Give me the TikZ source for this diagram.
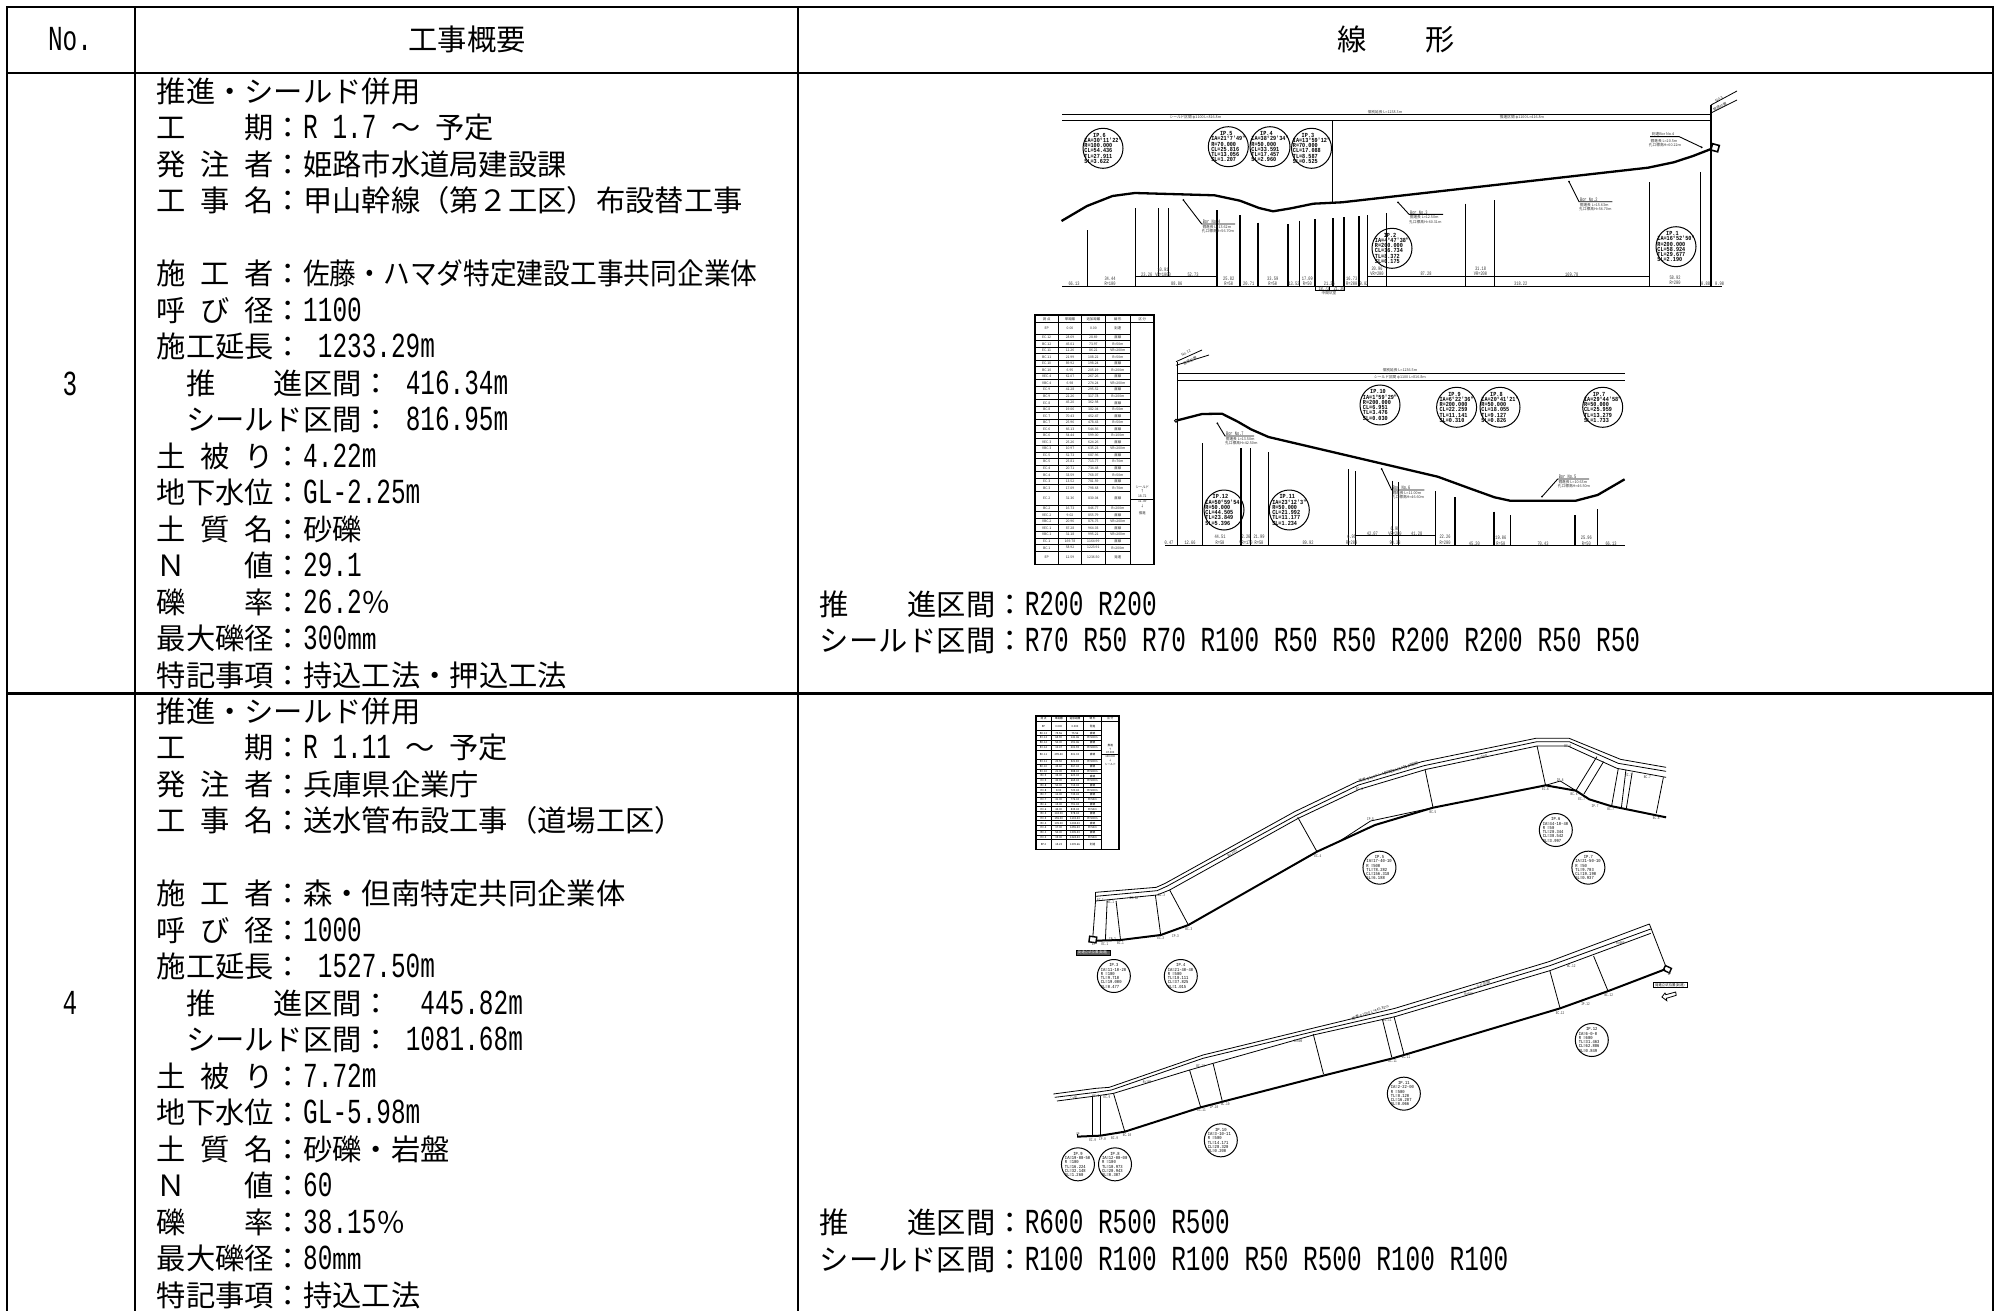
\documentclass[tikz,border=0pt]{standalone}
\usepackage{fontspec}
\setmainfont{Noto Sans CJK JP}
\newfontfamily\hwf[Scale=1.2,FakeStretch=0.6944]{Liberation Mono}
\newfontfamily\ipf[FakeStretch=0.8333]{Liberation Mono}
\newcommand\hwt[1]{{\hwf #1}}
\newcommand\hs{\hspace{.5em}}
\newcount\nc
\tikzset{
  frame/.style={line width=2.6pt},
  thin/.style={line width=.8pt},
  vert/.style={line width=1.1pt},
  route/.style={line width=2.3pt,line join=round},
  bor/.style={line width=.9pt},
  bodyt/.style={font=\fontsize{29.3}{30}\selectfont,anchor=base west,inner sep=0pt},
  headt/.style={font=\fontsize{29.3}{30}\selectfont,anchor=base,inner sep=0pt},
  dimt/.style={font=\hwf\fontsize{4.4}{5}\selectfont,inner sep=0pt,text=black!80},
  jpt/.style={font=\fontsize{3.7}{4.4}\selectfont,inner sep=0pt,text=black!80},
  ring/.style={circle,draw,line width=1pt,minimum size=#1,inner sep=0pt},
  iptext/.style={font=\ipf\bfseries\fontsize{6.2}{5.3}\selectfont,inner sep=0pt,align=left},
  iptextb/.style={font=\ipf\fontsize{4.6}{4.3}\selectfont,inner sep=0pt,align=left},
}
\newcommand\tline[3]{\global\advance\nc by 1 \node[bodyt] (n\the\nc) at (#1,#2) {#3};}
\newcommand\dm[4][0]{\global\advance\nc by 1 \node[dimt,rotate=#1] (n\the\nc) at (#2,#3) {#4};}
\newcommand\jt[4][0]{\global\advance\nc by 1 \node[jpt,rotate=#1] (n\the\nc) at (#2,#3) {#4};}
\newcommand\ipc[8]{\global\advance\nc by 1
  \node[ring=40pt] (n\the\nc) at (#1,#2) {};
  \node[iptext] (t\the\nc) at (n\the\nc) {\makebox[30pt][c]{#3}\\#4\\#5\\#6\\#7\\#8};}
\newcommand\ipd[8]{\global\advance\nc by 1
  \node[ring=33pt] (n\the\nc) at (#1,#2) {};
  \node[iptextb] (t\the\nc) at (n\the\nc) {\makebox[26pt][c]{#3}\\#4\\#5\\#6\\#7\\#8};}
% bor(dot x,y; knee x,y; end x; label)
\newcommand\bore[7]{\global\advance\nc by 1
  \coordinate (bd\the\nc) at (#1,#2);
  \coordinate (bk\the\nc) at (#3,#4);
  \coordinate (be\the\nc) at (#5,#4);
  \fill (bd\the\nc) circle (1pt);
  \draw[bor] (bd\the\nc) -- (bk\the\nc) -- (be\the\nc);
  \node[dimt,anchor=south west] (bl\the\nc) at (bk\the\nc) {\,#6};
  \node[jpt,anchor=north west,align=left] (bm\the\nc) at ([yshift=-1pt]bk\the\nc) {\,#7};}
% table
\newcommand\tstart[7]{\gdef\cxa{#1}\gdef\cxb{#2}\gdef\cxc{#3}\gdef\cxd{#4}\gdef\cxe{#5}\gdef\cxf{#6}\xdef\ycur{#7}\gdef\ytop{#7}}
\newcommand\trow[5]{%
  \pgfmathsetmacro\ynx{\ycur+#1}\pgfmathsetmacro\ymd{\ycur+#1/2}%
  \pgfmathsetmacro\pa{(\cxa+\cxb)/2}\pgfmathsetmacro\pb{(\cxb+\cxc)/2}\pgfmathsetmacro\pc{(\cxc+\cxd)/2}\pgfmathsetmacro\pd{(\cxd+\cxe)/2}%
  \global\advance\nc by 1
  \node[tabt] (n\the\nc a) at (\pa,\ymd) {#2};
  \node[tabt] (n\the\nc b) at (\pb,\ymd) {#3};
  \node[tabt] (n\the\nc c) at (\pc,\ymd) {#4};
  \node[tabt] (n\the\nc d) at (\pd,\ymd) {#5};
  \draw[line width=.8pt] (\cxa,\ynx) -- (\cxe,\ynx);
  \xdef\ycur{\ynx}}
\newcommand\tend{%
  \draw[line width=1.3pt] (\cxa,\ytop) rectangle (\cxf,\ycur);
  \foreach \vx in {\cxb,\cxc,\cxd,\cxe} {\draw[line width=.9pt] (\vx,\ytop) -- (\vx,\ycur);}}
\begin{document}
\begin{tikzpicture}[x=1pt,y=-1pt]
\useasboundingbox (0,0) rectangle (1995,1311);
\fill[white] (0,0) rectangle (1995,1311);
%% ---- table frame
\draw[frame] (7,1311) -- (7,7) -- (1993,7) -- (1993,1311);
\draw[frame] (7,73) -- (1993,73);
\draw[frame] (135,7) -- (135,1311);
\draw[frame] (798,7) -- (798,1311);
\draw[frame] (7,693.5) -- (1993,693.5);
\node[headt] (hno) at (70,51) {\hwt{No.}};
\node[headt] (hov) at (467,51) {工事概要};
\node[headt] (hal) at (1396,51) {線　　形};
\node[headt] (num3) at (70,395) {\hwt{3}};
\node[headt] (num4) at (70,1014) {\hwt{4}};
%% ---- left text, row 3
\foreach \ya/\tx in {
 0/{推進・シールド併用},
 1/{工　　期：\hwt{R 1.7 }～\hs 予定},
 2/{発\hs 注\hs 者：姫路市水道局建設課},
 3/{工\hs 事\hs 名：甲山幹線（第２工区）布設替工事},
 5/{施\hs 工\hs 者：\scalebox{0.912}[1]{佐藤・ハマダ特定建設工事共同企業体}},
 6/{呼\hs び\hs 径：\hwt{1100}},
 7/{施工延長：\hs\hwt{1233.29m}},
 8/{　推　　進区間：\hs\hwt{416.34m}},
 9/{　シールド区間：\hs\hwt{816.95m}},
 10/{土\hs 被\hs り：\hwt{4.22m}},
 11/{地下水位：\hwt{GL-2.25m}},
 12/{土\hs 質\hs 名：砂礫},
 13/{Ｎ　　値：\hwt{29.1}},
 14/{礫　　率：\hwt{26.2}％},
 15/{最大礫径：\hwt{300}㎜},
 16/{特記事項：持込工法・押込工法}}
 {\pgfmathsetmacro\yy{102.3+\ya*36.5}\tline{156.5}{\yy}{\tx}}
%% ---- left text, row 4
\foreach \ya/\tx in {
 0/{推進・シールド併用},
 1/{工　　期：\hwt{R 1.11 }～\hs 予定},
 2/{発\hs 注\hs 者：兵庫県企業庁},
 3/{工\hs 事\hs 名：送水管布設工事（道場工区）},
 5/{施\hs 工\hs 者：森・但南特定共同企業体},
 6/{呼\hs び\hs 径：\hwt{1000}},
 7/{施工延長：\hs\hwt{1527.50m}},
 8/{　推　　進区間：\hs\hs\hwt{445.82m}},
 9/{　シールド区間：\hs\hwt{1081.68m}},
 10/{土\hs 被\hs り：\hwt{7.72m}},
 11/{地下水位：\hwt{GL-5.98m}},
 12/{土\hs 質\hs 名：砂礫・岩盤},
 13/{Ｎ　　値：\hwt{60}},
 14/{礫　　率：\hwt{38.15}％},
 15/{最大礫径：\hwt{80}㎜},
 16/{特記事項：持込工法}}
 {\pgfmathsetmacro\yy{722+\ya*36.5}\tline{156.5}{\yy}{\tx}}
%% ---- right text
\tline{819.5}{615}{推　　進区間：\hwt{R200 R200}}
\tline{819.5}{651.5}{シールド区間：\hwt{R70 R50 R70 R100 R50 R50 R200 R200 R50 R50}}
\tline{819.5}{1233.5}{推　　進区間：\hwt{R600 R500 R500}}
\tline{819.5}{1270}{シールド区間：\hwt{R100 R100 R100 R50 R500 R100 R100}}
%% ======== PROFILE 1
\draw[thin,line width=1pt] (1062,114.3) -- (1711,114.3);
\draw[thin,line width=1pt] (1062,120.7) -- (1711,120.7);
\draw[vert] (1711,105) -- (1711,286);
\draw[thin] (1332.5,120.7) -- (1332.5,202);
\draw[thin] (1711,105) -- (1737,91);
\draw[thin] (1711,113) -- (1737,100);
\draw[route] (1061.5,221) -- (1087,206) -- (1112.5,196) -- (1134.8,193) -- (1214.5,195.3) -- (1240,200.7) -- (1259,208) -- (1273,211.3) -- (1291,208.3) -- (1313.4,203.7) -- (1342,202.3) -- (1648,167.7) -- (1673.7,162.3) -- (1693,156) -- (1711,149);
\draw[line width=1.6pt,rotate around={-15:(1715,148)}] (1711.5,144.5) rectangle (1718.5,151);
\foreach \xx/\yy in {1087.6/230,1135.5/208.3,1217/210,1240/215,1258/222.7,1288/224,1299.4/220.7,1315/219,1333/218.3,1344/217.3,1359/216,1367.6/215.3,1386.7/213.3,1465.8/203.7,1494.5/200.3,1649.5/182,1700.5/172}
  {\draw[vert] (\xx,\yy) -- (\xx,286);}
\foreach \xx in {1158.4,1168.6} {\draw[vert] (\xx,208) -- (\xx,276);}
\draw[thin,line width=1pt] (1062,286) -- (1722,286);
\draw[thin,line width=1pt] (1135.5,276) -- (1217,276);
\draw[thin,line width=1pt] (1367.6,276) -- (1649.5,276);
\draw[thin] (1315,286) -- (1315,290.7) -- (1344,290.7) -- (1344,286);
\draw[thin] (1329,286) -- (1329,290.7);
\ipc{1103}{148.3}{IP.6}{IA=30°11'22"}{R=100.000}{CL=54.436}{TL=27.911}{SL=3.622}
\ipc{1228.3}{146.7}{IP.5}{IA=21°7'49"}{R=70.000}{CL=25.816}{TL=13.056}{SL=1.207}
\ipc{1270}{146.7}{IP.4}{IA=38°29'34"}{R=50.000}{CL=33.591}{TL=17.457}{SL=2.960}
\ipc{1311.5}{148.3}{IP.3}{IA=13°59'12"}{R=70.000}{CL=17.088}{TL=8.587}{SL=0.525}
\ipc{1392}{248.3}{IP.2}{IA=4°47'38"}{R=200.000}{CL=16.734}{TL=8.372}{SL=0.175}
\ipc{1676}{246.7}{IP.1}{IA=16°52'50"}{R=200.000}{CL=58.924}{TL=29.677}{SL=2.190}
\bore{1183.3}{200}{1201.7}{224}{1235}{Bor No.4}{掘進長 L=13.62m\\孔口標高H=56.70m}
\bore{1398}{202.3}{1409}{214.3}{1443}{Bor No.3}{掘進長 L=12.50m\\孔口標高H=60.31m}
\bore{1569}{181.7}{1579}{201.7}{1612.3}{Bor No.2}{掘進長 L=15.63m\\孔口標高H=56.70m}
\global\advance\nc by 1
\coordinate (b4a) at (1650,136.7); \coordinate (b4b) at (1679.3,136.7); \coordinate (b4c) at (1701.7,147.3);
\fill (b4c) circle (1pt);
\draw[bor] (b4a) -- (b4b) -- (b4c);
\jt{1663}{134}{到達Bor No.4}
\jt{1664}{141}{掘進長 L=20.5m}
\jt{1665}{145}{孔口標高H=60.22m}
\jt{1385}{112.3}{個別延長 L=1238.3m}
\jt{1195.4}{117.7}{シールド区間 φ1100 L=816.8m}
\jt{1522}{117.7}{推進区間 φ1100 L=416.8m}
\jt[28]{1719}{99}{No.3}
\jt[28]{1720}{107}{管底位置}
\foreach \xx/\yy/\tt in {1074/284/66.13,1110/278.3/34.44,1110/283.7/R=100,1146.7/274.3/23.26,1163/269.7/10.91,1163/274.3/VR=1000,1193/274.3/52.73,1176.7/283.7/88.86,1228.7/278.3/25.82,1228.7/283.7/R=50,1248.7/283.3/20.71,1272.7/278.3/33.59,1272.7/283.7/R=50,1294/283.3/13.52,1307.3/278.3/17.09,1307.3/283.7/R=50,1329.3/283.3/21.36,1324/288.3/18.72,1339/288.3/21.36,1351.7/278.3/16.73,1351.7/283.7/R=200,1364/283.3/9.02,1377/269/20.96,1377/273.3/VR=200,1426/273.3/87.28,1480.5/269/31.18,1480.5/273.3/VR=200,1571.7/274.3/169.78,1520.7/283.3/318.22,1675/277.3/58.92,1675/283/R=200,1705.6/283.3/0.88,1719.6/283.3/0.90}
  {\dm{\xx}{\yy}{\tt}}
\jt{1329}{293.5}{中間坑室}
%% ---- table 3
\tikzset{tabt/.style={font=\fontsize{3.4}{4}\selectfont,inner sep=0pt,text=black!85}}
\tstart{1035}{1058.3}{1081.7}{1105}{1130.7}{1154}{315}
\trow{7.7}{測 点}{単距離}{追加距離}{線 形}
\trow{11.3}{EP}{0.00}{0.00}{到達}
\foreach \aa/\bb/\cc/\dd in {EC.12/28.69/28.69/直線,BC.12/45.01/73.97/R=50m,EC.11/12.26/86.22/VR=200m,BC.11/21.99/108.22/R=50m,EC.10/89.92/198.24/直線,BC.10/6.95/205.19/R=200m,VEC.4/62.07/267.26/直線,VBC.4/6.98/274.24/VR=200m,EC.9/41.28/295.52/直線,BC.9/22.26/317.78/R=200m,EC.8/45.20/362.98/直線,BC.8/19.06/382.04/R=50m,EC.7/70.43/452.47/直線,BC.7/25.96/478.43/R=50m,EC.6/66.13/544.56/直線,BC.6/54.44/599.00/R=100m,VEC.3/25.26/624.26/直線,VBC.3/10.97/635.23/VR=200m,EC.5/52.73/687.96/直線,BC.5/25.81/713.77/R=70m,EC.4/20.71/734.48/直線,BC.4/33.59/768.07/R=50m,EC.3/13.52/781.59/直線,BC.3/17.09/798.68/R=70m}
 {\trow{6.55}{\aa}{\bb}{\cc}{\dd}}
\trow{14}{EC.2}{31.36}{830.04}{直線}
\foreach \aa/\bb/\cc/\dd in {BC.2/16.73/846.77/R=200m,VEC.2/9.02/855.79/直線,VBC.2/20.96/876.75/VR=200m,VEC.1/87.28/964.03/直線,VBC.1/31.18/995.21/VR=200m,EC.1/169.78/1164.99/直線,BC.1/58.92/1223.91/R=200m}
 {\trow{6.55}{\aa}{\bb}{\cc}{\dd}}
\trow{13.2}{EP}{12.59}{1236.50}{発進}
\tend
\node[tabt] (s3h) at (1142.3,318.8) {区 分};
\draw[line width=.8pt] (1130.7,322.7) -- (1154,322.7);
\draw[line width=.9pt] (1130.7,499) -- (1154,499);
\node[tabt] (s3a) at (1142.3,487) {シールド};
\node[tabt] (s3b) at (1142.3,491.5) {↑};
\node[tabt] (s3c) at (1142.3,496.5) {18.72};
\node[tabt] (s3d) at (1142.3,501.7) {11.39};
\node[tabt] (s3e) at (1142.3,506.5) {↓};
\node[tabt] (s3f) at (1142.3,513) {推進};
%% ======== PROFILE 2
\draw[line width=1pt] (1176.8,373.3) -- (1624.6,373.3);
\draw[line width=1pt] (1176.8,380.3) -- (1624.6,380.3);
\draw[vert] (1177.6,361.7) -- (1177.6,545);
\draw[thin] (1176,361.7) -- (1202,350);
\draw[thin] (1176,365.3) -- (1209,355);
\draw[route] (1176,420.7) -- (1202,414) -- (1222,413.7) -- (1237.8,421.7) -- (1251,429.3) -- (1268.5,437) -- (1437.7,476.7) -- (1471.4,489) -- (1494.5,497.3) -- (1510,500.7) -- (1575.8,500.7) -- (1597.6,495) -- (1624.6,479.3);
\draw[thin,fill=white] (1176,420.7) circle (1.5pt);
\foreach \xx/\yy in {1202.9/443.3,1241/448.3,1250.4/448.3,1268.5/452.3,1348.5/469.3,1355.2/471,1392.3/480.7,1398.6/482,1435.2/491,1455/497.3,1494/511.7,1510.5/515,1575/515,1597.6/509}
  {\draw[vert] (\xx,\yy) -- (\xx,545);}
\draw[line width=1pt] (1165,545) -- (1624.6,545);
\draw[line width=1pt] (1355,535.3) -- (1435,535.3);
\ipc{1224}{510}{IP.12}{IA=50°59'54"}{R=50.000}{CL=44.505}{TL=23.849}{SL=5.396}
\ipc{1289.3}{510}{IP.11}{IA=23°12'3"}{R=50.000}{CL=21.992}{TL=11.177}{SL=1.234}
\ipc{1380}{405}{IP.10}{IA=1°59'29"}{R=200.000}{CL=6.951}{TL=3.476}{SL=0.030}
\ipc{1456.6}{407.3}{IP.9}{IA=6°22'36"}{R=200.000}{CL=22.259}{TL=11.141}{SL=0.310}
\ipc{1500}{407.3}{IP.8}{IA=20°41'21"}{R=50.000}{CL=18.055}{TL=9.127}{SL=0.826}
\ipc{1602.7}{407.3}{IP.7}{IA=29°44'58"}{R=50.000}{CL=25.959}{TL=13.279}{SL=1.733}
\bore{1217.3}{423.3}{1225}{436}{1254}{Bor No.7}{掘進長 L=13.50m\\孔口標高H=42.50m}
\bore{1381.7}{469}{1391.7}{490}{1424.3}{Bor No.6}{掘進長 L=11.00m\\孔口標高H=46.60m}
\bore{1542}{496.7}{1557.7}{479}{1589}{Bor No.5}{掘進長 L=10.63m\\孔口標高H=46.50m}
\jt{1400}{370.5}{個別延長 L=1236.5m}
\jt{1400}{377}{シールド区間 φ1100 L=816.8m}
\jt[25]{1186}{353}{No.12}
\jt[25]{1190}{361}{管底位置}
\foreach \xx/\yy/\tt in {1169/543/0.47,1190/543/12.66,1220/536.7/44.51,1220/543/R=50,1246/536.7/2.26,1246/543/VR=170,1259/536.7/21.99,1259/543/R=50,1308/543/89.92,1351.7/536.7/6.95,1351.7/543/R=200,1372.3/533.3/42.07,1395/528.7/6.98,1395/533.3/VR=200,1416.7/533.3/41.28,1395/543/90.33,1445/536.7/22.26,1445/543/R=200,1474.3/543.3/45.20,1500.8/537.3/19.06,1500.8/543.3/R=50,1543/543.3/70.43,1586.3/537.3/25.96,1586.3/543.3/R=50,1611/543.3/66.13}
  {\dm{\xx}{\yy}{\tt}}
%% ======== TABLE 4
\tikzset{tabt/.style={font=\fontsize{2.7}{3}\selectfont,inner sep=0pt,text=black}}
\tstart{1036}{1051}{1066.7}{1083.3}{1101.7}{1119}{716}
\trow{5.7}{測 点}{単距離}{追加距離}{線 形}
\trow{9}{EP}{0.000}{0.000}{発進}
\foreach \aa/\bb/\cc/\dd in {BC.13/75.56/75.56/直線,EC.13/65.90/141.46/R=500m,BC.12/50.00/191.46/直線,EC.12/10.47/201.93/R=500m}
 {\trow{4.82}{\aa}{\bb}{\cc}{\dd}}
\trow{9.5}{BC.11}{299.40}{501.33}{直線}
\foreach \aa/\bb/\cc/\dd in {EC.11/20.50/521.83/R=500m,BC.10/45.60/567.43/直線,EC.10/21.00/588.43/R=500m,BC.9/35.00/623.43/直線,EC.9/42.00/665.43/R=500m,BC.8/50.00/715.43/直線,EC.8/8.00/723.43/R=500m,BC.7/12.00/735.43/直線,EC.7/41.00/776.43/R=50m,BC.6/15.00/791.43/直線,EC.6/44.00/835.43/R=50m,BC.5/143.00/978.43/直線,EC.5/155.00/1133.43/R=500m,BC.4/105.00/1238.43/直線,EC.4/17.00/1255.43/R=50m,BC.3/50.00/1305.43/直線,EC.3/19.00/1324.43/R=50m}
 {\trow{4.72}{\aa}{\bb}{\cc}{\dd}}
\trow{9.9}{EP.2}{15.23}{1339.66}{到達}
\tend
\node[tabt] (s4h) at (1110.3,718.8) {区 分};
\draw[line width=.8pt] (1101.7,721.7) -- (1119,721.7);
\draw[line width=.9pt] (1101.7,754.3) -- (1119,754.3);
\node[tabt] (s4a) at (1110.3,745.7) {推進};
\node[tabt] (s4b) at (1110.3,749) {↑};
\node[tabt] (s4c) at (1110.3,752.5) {47.000};
\node[tabt] (s4d) at (1110.3,756.7) {100.000};
\node[tabt] (s4e) at (1110.3,760.7) {↓};
\node[tabt] (s4f) at (1110.3,765) {シールド};
%% ======== UPPER PLAN (coordinates of the 1000,700 crop)
\begin{scope}[shift={(1000,700)},x=.44643pt,y=-.33333pt]
 \draw[thin] (214,577) -- (350,562) -- (370,550) -- (660,335) -- (800,245) -- (945,185) -- (1200,115) -- (1275,115) -- (1390,178) -- (1492,202);
 \draw[thin] (214,589) -- (352,572) -- (375,558) -- (665,345) -- (803,255) -- (950,197) -- (1203,125) -- (1275,125) -- (1385,190) -- (1492,214);
 \draw[thin] (214,603) -- (352,585) -- (380,570) -- (668,355) -- (805,268) -- (955,208) -- (1203,138) -- (1272,138) -- (1382,205) -- (1492,232);
 \draw[route,line width=2pt] (215,722) -- (270,720) -- (360,705) -- (422,675) -- (710,455) -- (840,375) -- (970,323) -- (1222,256) -- (1290,272) -- (1320,298) -- (1368,318) -- (1492,352);
 \draw[thin] (214,577) -- (214,603);
 \foreach \xa/\ya/\xb/\yb in {214/603/208/710,240/603/236/722,260/603/270/720,348/585/360/705,380/570/422/675,667/352/710/455,952/208/970/323,1203/138/1222/256,1337/170/1290/272,1352/185/1308/282,1385/205/1370/318,1402/210/1392/322,1416/218/1403/325,1486/232/1470/340}
  {\draw[thin] (\xa,\ya) -- (\xb,\yb);}
 \draw[thin] (1222,256) -- (1255,243) -- (1290,272);
 \draw[thin] (760,424) -- (830,363) -- (970,323);
 \draw[line width=1.4pt,rotate around={-8:(208,718)}] (200,710) rectangle (216,727);
 \global\advance\nc by 1
 \node[fill=black!65,draw=black,line width=.5pt,inner sep=.6pt,font=\fontsize{3.4}{4}\selectfont,text=white,minimum width=34pt,minimum height=4.6pt] (tagup) at (208,758) {到達立坑位置(発進)};
 \ipd{255}{828}{IP.3}{IA=11-10-20}{R =100}{TL=9.710}{CL=19.000}{SL=0.477}
 \ipd{405}{828}{IP.4}{IA=21-40-40}{R =500}{TL=10.111}{CL=37.825}{SL=1.015}
 \ipd{850}{503}{IP.5}{IA=17-40-10}{R =500}{TL=78.282}{CL=156.318}{SL=6.188}
 \ipd{1245}{390}{IP.6}{IA=44-10-40}{R =50}{TL=20.344}{CL=38.542}{SL=3.997}
 \ipd{1318}{503}{IP.7}{IA=21-50-10}{R =50}{TL=9.703}{CL=19.190}{SL=0.937}
 \foreach \xx/\yy/\tt in {210/732/EP,235/732/EC.1,252/718/IP.2,270/730/BC.1,360/714/EC.3,393/707/IP.3,423/687/BC.3,712/467/EC.4,830/357/IP.5,970/336/BC.5,1222/267/EC.6,1255/240/IP.6,1286/283/BC.6,1303/297/EC.7,1333/318/IP.7,1368/328/BC.7,1470/353/EC.8,225/601/EC.1,248/606/BC.1,300/593/23.50,362/586/BC.3,805/268/EC.4,1272/138/BC.6,1408/225/EC.7,1450/230/BC.7}
  {\node[dimt,font=\hwf\fontsize{3.4}{4}\selectfont] (u\the\nc\xx) at (\xx,\yy) {\tt};}
 \jt[17]{870}{218}{推進 φ1000 L=445.82m シールド区間}
 \jt[17]{895}{207}{φ1000 L=1081.68m}
 \jt[20]{1080}{172}{R=500}
 \jt[36]{520}{460}{R=100}
\end{scope}
%% ======== LOWER PLAN (coordinates of the 1040,900 crop)
\begin{scope}[shift={(1040,900)},x=.44643pt,y=-.33333pt]
 \draw[thin] (30,582) -- (125,565) -- (155,562) -- (365,465) -- (610,385) -- (795,325) -- (1140,185) -- (1365,72);
 \draw[thin] (33,592) -- (125,577) -- (160,570) -- (365,475) -- (612,395) -- (795,338) -- (1142,197) -- (1368,87);
 \draw[thin] (38,603) -- (130,587) -- (165,580) -- (335,510) -- (612,405) -- (795,350) -- (1142,212) -- (1368,100);
 \draw[route,line width=2pt] (83,710) -- (135,707) -- (190,695) -- (360,622) -- (640,525) -- (790,475) -- (1165,325) -- (1275,272) -- (1400,208);
 \foreach \xa/\ya/\xb/\yb in {165/582/190/695,335/510/360/622,388/492/408/602,612/402/635/522,767/358/788/472,793/350/815/462,1142/212/1165/325,1240/168/1272/272,1365/72/1402/200}
  {\draw[thin] (\xa,\ya) -- (\xb,\yb);}
 \foreach \xa in {118,136} {\draw[line width=1.1pt] (\xa,587) -- (\xa,707);}
 \draw[thin] (83,703) -- (83,712);
 \draw[line width=1.4pt,rotate around={-25:(1405,207)}] (1398,200) rectangle (1413,215);
 \node[fill=white,draw=black,line width=.8pt,inner sep=.6pt,font=\fontsize{3.4}{4}\selectfont,minimum width=34pt,minimum height=4.6pt] (tagdn) at (1411,255) {発進立坑位置(到達)};
 \draw[thin,fill=white] (1424,276) -- (1402,284) -- (1400,279) -- (1393,291) -- (1404,302) -- (1403,295) -- (1425,286) -- cycle;
 \ipd{85}{793}{IP.9}{IA=19-00-50}{R =100}{TL=16.224}{CL=32.148}{SL=1.260}
 \ipd{168}{793}{IP.8}{IA=12-00-00}{R =100}{TL=10.973}{CL=20.943}{SL=0.307}
 \ipd{405}{721}{IP.10}{IA=3-10-11}{R =500}{TL=14.171}{CL=28.320}{SL=0.200}
 \ipd{815}{581}{IP.11}{IA=2-22-00}{R =500}{TL=8.120}{CL=16.287}{SL=0.066}
 \ipd{1236}{420}{IP.12}{IA=6-0-0}{R =600}{TL=31.463}{CL=62.886}{SL=0.849}
 \foreach \xx/\yy/\tt in {85/702/SP,118/719/EC.9,140/716/IP.9,167/715/BC.9,195/705/EC.10,362/631/EC.11,390/620/IP.10,415/612/BC.10,790/483/BC.11,820/472/EC.11,1165/338/EC.12,1222/313/IP.12,1274/284/BC.12,1410/222/EP,75/592/7.20,125/587/BC.9,150/590/EC.9,240/545/R=100,360/498/BC.10,578/423/R=500,778/360/EC.11,1190/197/BC.12,960/282/R=600,1300/130/R=600}
  {\node[dimt,font=\hwf\fontsize{3.4}{4}\selectfont] (d\the\nc\xx) at (\xx,\yy) {\tt};}
 \jt[19]{740}{338}{推進 φ1000 L=445.82m}
 \jt[22]{985}{258}{シールド区間}
\end{scope}
\end{tikzpicture}
\end{document}
